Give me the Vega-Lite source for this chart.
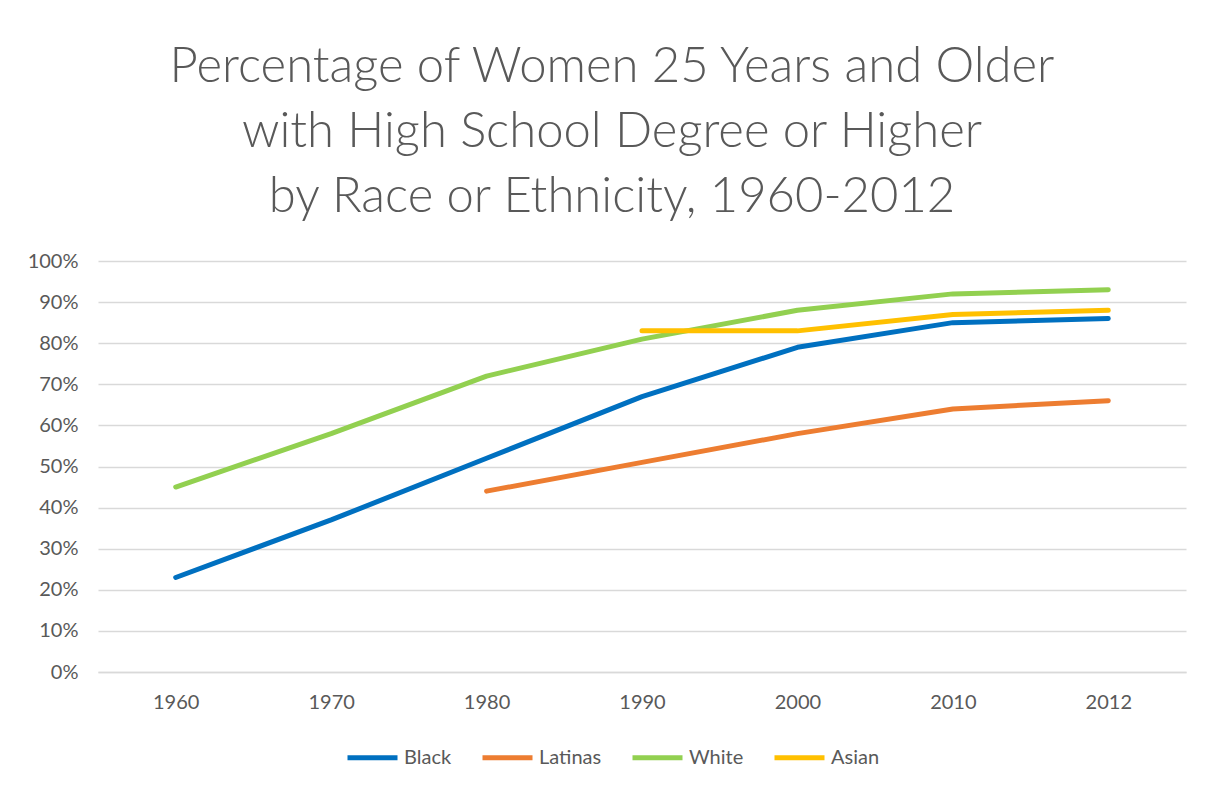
{
  "$schema": "https://vega.github.io/schema/vega-lite/v6.json",
  "width": 1088,
  "height": 411,
  "autosize": "none",
  "padding": {"left": 98, "top": 261, "right": 29, "bottom": 117},
  "background": "white",
  "title": {
    "text": ["Percentage of Women 25 Years and Older", "with High School Degree or Higher", "by Race or Ethnicity, 1960-2012"],
    "anchor": "middle",
    "frame": "group",
    "dx": -30,
    "offset": 29,
    "font": "Lato",
    "fontWeight": 300,
    "fontSize": 49,
    "lineHeight": 65,
    "color": "#595959"
  },
  "data": {
    "values": [
      {"year": "1960", "group": "Black", "pct": 23},
      {"year": "1970", "group": "Black", "pct": 37},
      {"year": "1980", "group": "Black", "pct": 52},
      {"year": "1990", "group": "Black", "pct": 67},
      {"year": "2000", "group": "Black", "pct": 79},
      {"year": "2010", "group": "Black", "pct": 85},
      {"year": "2012", "group": "Black", "pct": 86},
      {"year": "1980", "group": "Latinas", "pct": 44},
      {"year": "1990", "group": "Latinas", "pct": 51},
      {"year": "2000", "group": "Latinas", "pct": 58},
      {"year": "2010", "group": "Latinas", "pct": 64},
      {"year": "2012", "group": "Latinas", "pct": 66},
      {"year": "1960", "group": "White", "pct": 45},
      {"year": "1970", "group": "White", "pct": 58},
      {"year": "1980", "group": "White", "pct": 72},
      {"year": "1990", "group": "White", "pct": 81},
      {"year": "2000", "group": "White", "pct": 88},
      {"year": "2010", "group": "White", "pct": 92},
      {"year": "2012", "group": "White", "pct": 93},
      {"year": "1990", "group": "Asian", "pct": 83},
      {"year": "2000", "group": "Asian", "pct": 83},
      {"year": "2010", "group": "Asian", "pct": 87},
      {"year": "2012", "group": "Asian", "pct": 88}
    ]
  },
  "mark": {"type": "line", "strokeWidth": 5, "strokeCap": "round", "strokeJoin": "round"},
  "encoding": {
    "x": {
      "field": "year",
      "type": "ordinal",
      "scale": {"type": "point", "padding": 0.5},
      "axis": {
        "title": null,
        "labelAngle": 0,
        "ticks": false,
        "grid": false,
        "domain": true,
        "domainColor": "#d9d9d9",
        "domainWidth": 1.5,
        "labelFont": "Lato",
        "labelFontSize": 20,
        "labelColor": "#595959",
        "labelPadding": 20
      }
    },
    "y": {
      "field": "pct",
      "type": "quantitative",
      "scale": {"domain": [0, 100], "nice": false},
      "axis": {
        "title": null,
        "values": [0, 10, 20, 30, 40, 50, 60, 70, 80, 90, 100],
        "labelExpr": "datum.value + '%'",
        "ticks": false,
        "domain": false,
        "grid": true,
        "gridColor": "#d9d9d9",
        "gridWidth": 1.5,
        "labelFont": "Lato",
        "labelFontSize": 20,
        "labelColor": "#595959",
        "labelPadding": 20
      }
    },
    "color": {
      "field": "group",
      "type": "nominal",
      "scale": {"domain": ["Black", "Latinas", "White", "Asian"], "range": ["#0070C0", "#ED7D31", "#92D050", "#FFC000"]},
      "legend": {
        "title": null,
        "orient": "none",
        "direction": "horizontal",
        "legendX": 247,
        "legendY": 469,
        "symbolType": "stroke",
        "symbolSize": 2500,
        "symbolStrokeWidth": 5,
        "labelFont": "Lato",
        "labelFontSize": 20,
        "labelColor": "#595959",
        "labelOffset": 4,
        "columnPadding": 20
      }
    }
  },
  "config": {"view": {"stroke": null}}
}
